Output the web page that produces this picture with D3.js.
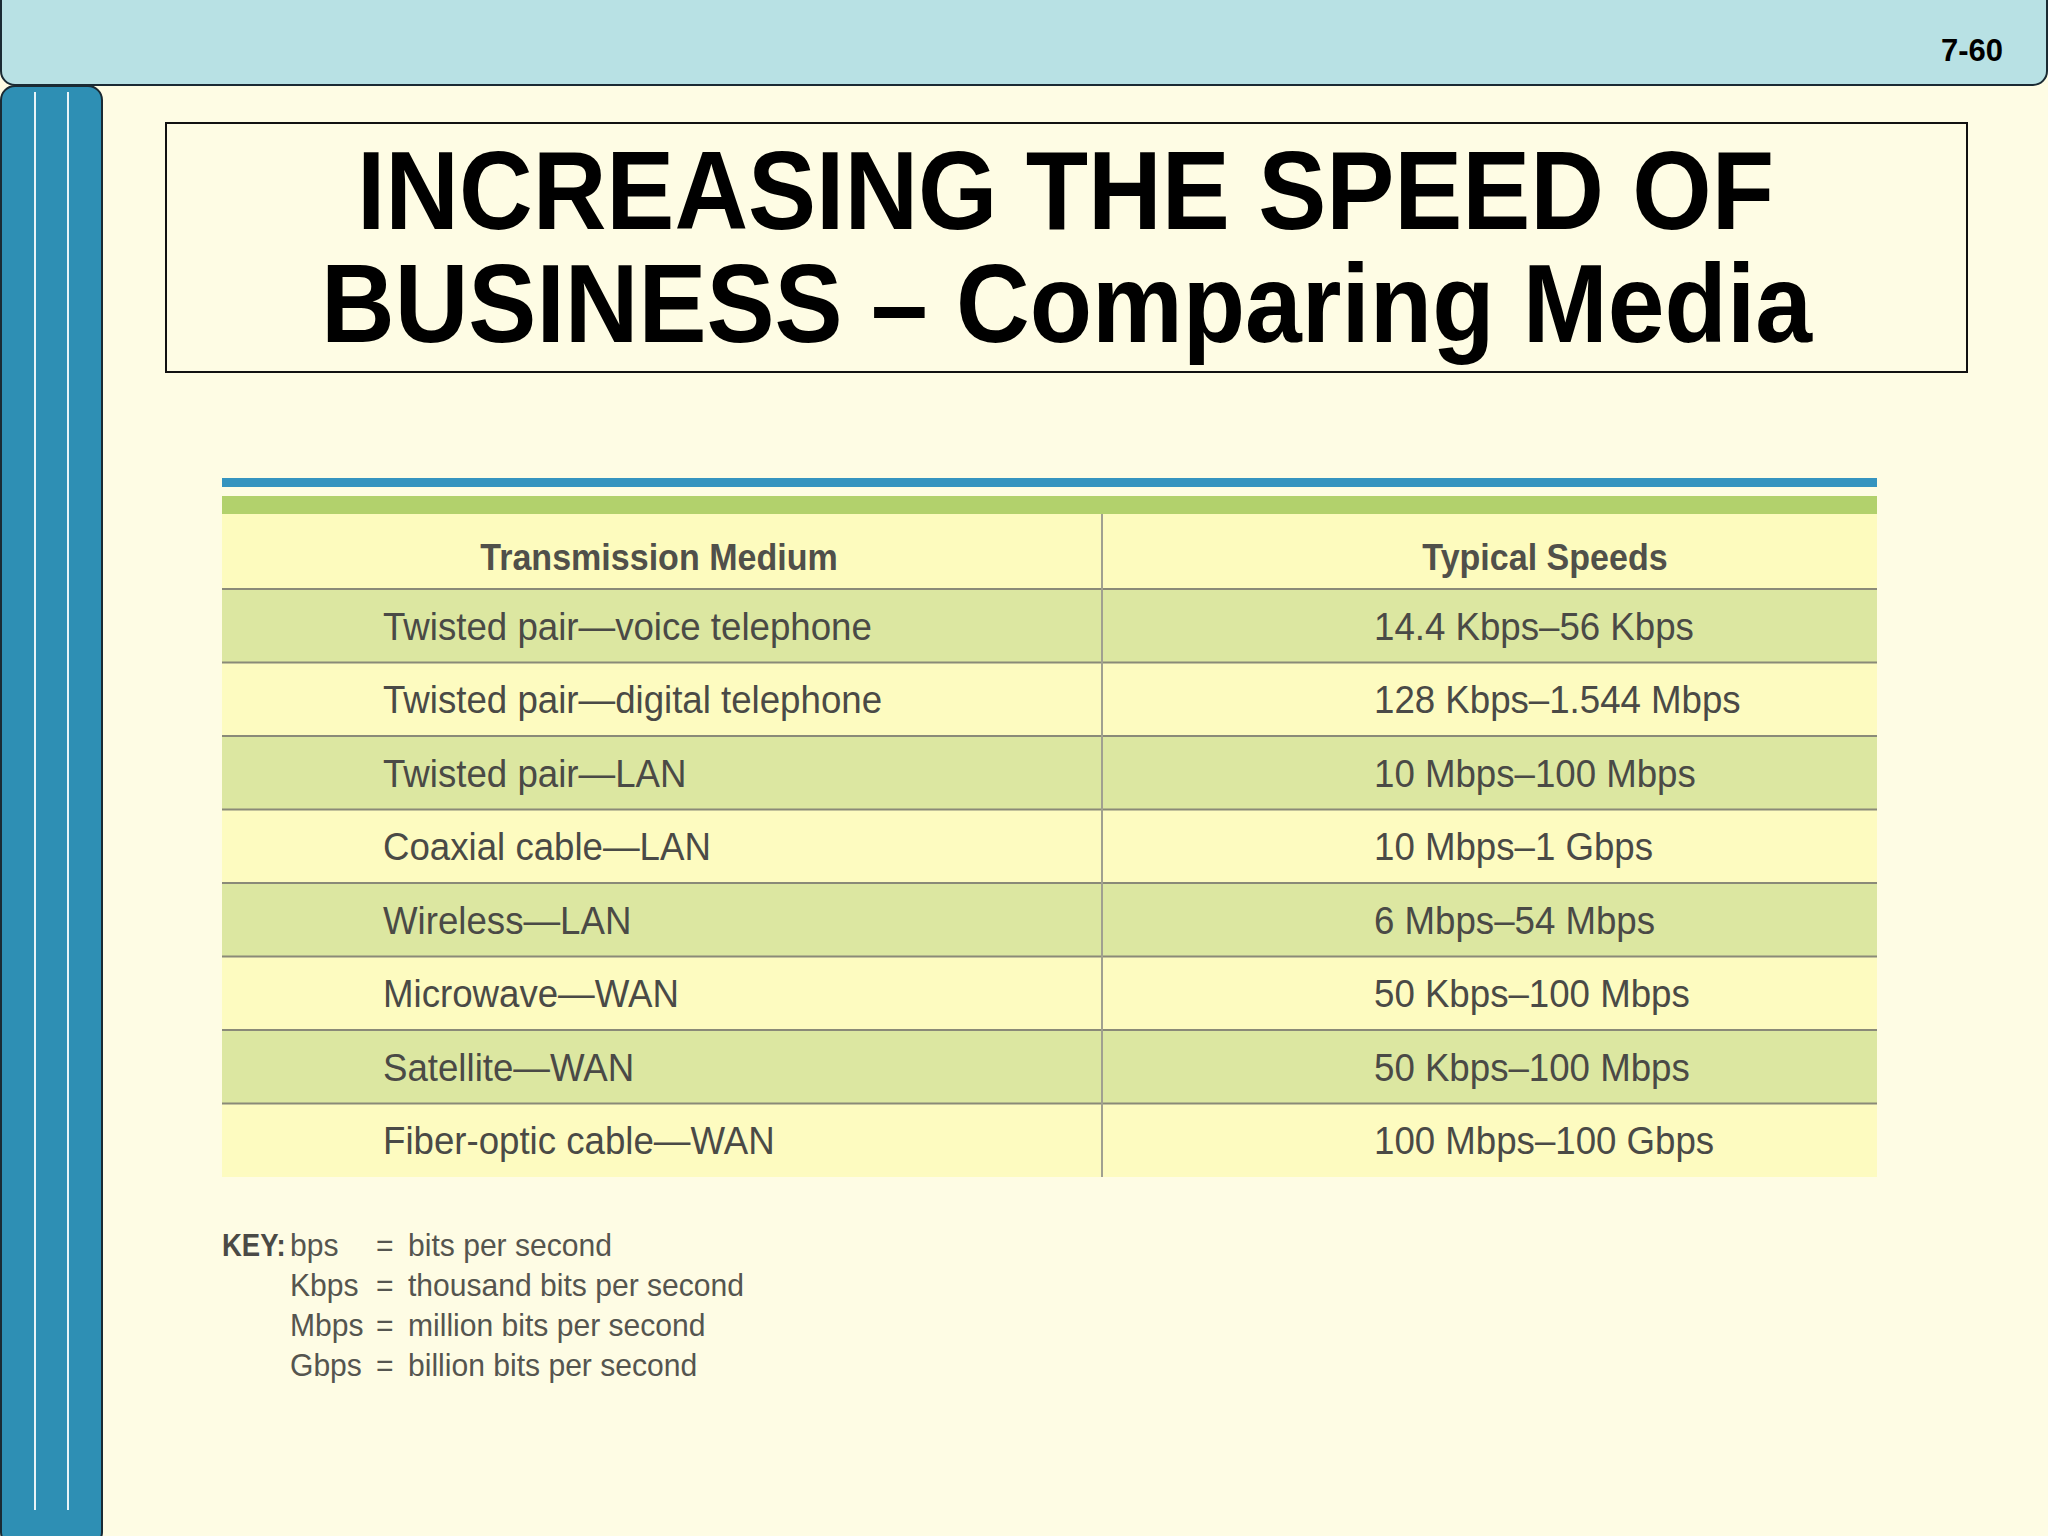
<!DOCTYPE html>
<html><head><meta charset="utf-8">
<script src="https://cdn.jsdelivr.net/npm/d3@7"></script>
<style>body{margin:0;background:#fefce4}</style>
</head><body><div id="chart"></div>
<script>
// данные таблицы
const media = ["Twisted pair\u2014voice telephone","Twisted pair\u2014digital telephone","Twisted pair\u2014LAN","Coaxial cable\u2014LAN","Wireless\u2014LAN","Microwave\u2014WAN","Satellite\u2014WAN","Fiber-optic cable\u2014WAN"];
const speeds = ["14.4 Kbps\u201356 Kbps","128 Kbps\u20131.544 Mbps","10 Mbps\u2013100 Mbps","10 Mbps\u20131 Gbps","6 Mbps\u201354 Mbps","50 Kbps\u2013100 Mbps","50 Kbps\u2013100 Mbps","100 Mbps\u2013100 Gbps"];
const headers = ["Transmission Medium","Typical Speeds"];
const keyUnits = ["bps","Kbps","Mbps","Gbps"];
const keyMeanings = ["bits per second","thousand bits per second","million bits per second","billion bits per second"];

const W = 2048, H = 1536;
const svg = d3.select("#chart").append("svg").attr("width", W).attr("height", H);
const sans = "'Liberation Sans',Arial,sans-serif";

// текст со сжатием по x (узкий шрифт)
function narrowText(parent, x, yy, str, font, fill, anchor, sx) {
    return parent.append("text").attr("transform", `translate(${x},${yy}) scale(${sx || 0.94},1)`)
        .attr("text-anchor", anchor || "start").style("font", font).attr("fill", fill).text(str);
}

svg.append("rect").attr("width", W).attr("height", H).attr("fill", "#fefce4");

// боковая полоса
svg.append("rect").attr("x", 1).attr("y", 86).attr("width", 101).attr("height", 1460).attr("rx", 14)
    .attr("fill", "#2e8fb4").attr("stroke", "#1a2a33").attr("stroke-width", 2);
[35, 68].forEach(x => svg.append("line").attr("x1", x).attr("x2", x).attr("y1", 92).attr("y2", 1510)
    .attr("stroke", "#e8f4f8").attr("stroke-width", 2));

// верхняя полоса
svg.append("rect").attr("x", 1).attr("y", -20).attr("width", W - 2).attr("height", 105).attr("rx", 14)
    .attr("fill", "#b8e1e4").attr("stroke", "#1a2a33").attr("stroke-width", 2);
svg.append("text").attr("x", 2003).attr("y", 61).attr("text-anchor", "end")
    .style("font", "bold 31px " + sans).text("7-60");

// заголовок
svg.append("rect").attr("x", 166).attr("y", 123).attr("width", 1801).attr("height", 249)
    .attr("fill", "none").attr("stroke", "#111").attr("stroke-width", 2);
svg.append("text").attr("x", 357).attr("y", 229).attr("textLength", 1417).attr("lengthAdjust", "spacingAndGlyphs")
    .style("font", "bold 112px " + sans).text("INCREASING THE SPEED OF");
svg.append("text").attr("x", 321).attr("y", 342).attr("textLength", 1491).attr("lengthAdjust", "spacingAndGlyphs")
    .style("font", "bold 112px " + sans).text("BUSINESS \u2013 Comparing Media");

// таблица
const x0 = 222, x1 = 1877, colX = 1102;
const y = d3.scaleBand().domain(d3.range(media.length)).range([589, 1177]);
svg.append("rect").attr("x", x0).attr("y", 478).attr("width", x1 - x0).attr("height", 9).attr("fill", "#3594bf");
svg.append("rect").attr("x", x0).attr("y", 496).attr("width", x1 - x0).attr("height", 18).attr("fill", "#b2d16c");
svg.append("rect").attr("x", x0).attr("y", 514).attr("width", x1 - x0).attr("height", 75).attr("fill", "#fdfbbe");

const rows = svg.selectAll("g.row").data(media).enter().append("g").attr("class", "row");
rows.append("rect").attr("x", x0).attr("y", (d, i) => y(i)).attr("width", x1 - x0).attr("height", y.bandwidth())
    .attr("fill", (d, i) => i % 2 === 0 ? "#dce7a1" : "#fdfbc0");
rows.append("line").attr("x1", x0).attr("x2", x1).attr("y1", (d, i) => y(i)).attr("y2", (d, i) => y(i))
    .attr("stroke", "#8a8a78").attr("stroke-width", 2);
rows.each(function (d, i) {
    const g = d3.select(this), ty = y(i) + y.bandwidth() / 2 + 14;
    narrowText(g, 383, ty, d, "39px " + sans, "#4a4a46");
    narrowText(g, 1374, ty, speeds[i], "39px " + sans, "#4a4a46");
});

svg.append("line").attr("x1", colX).attr("x2", colX).attr("y1", 514).attr("y2", 1177)
    .attr("stroke", "#a0a090").attr("stroke-width", 2);
[659, 1545].forEach((cx, i) => narrowText(svg, cx, 570, headers[i], "bold 37px " + sans, "#50504a", "middle", 0.92));

// ключ
const ky = d3.scalePoint().domain(d3.range(keyUnits.length)).range([1256, 1376]);
narrowText(svg, x0, ky(0), "KEY:", "bold 32px " + sans, "#4a4a46", "start", 0.86);
keyUnits.forEach((u, i) => {
    narrowText(svg, 290, ky(i), u, "32px " + sans, "#55554f");
    narrowText(svg, 376, ky(i), "=", "32px " + sans, "#55554f");
    narrowText(svg, 408, ky(i), keyMeanings[i], "32px " + sans, "#55554f");
});
</script></body></html>
